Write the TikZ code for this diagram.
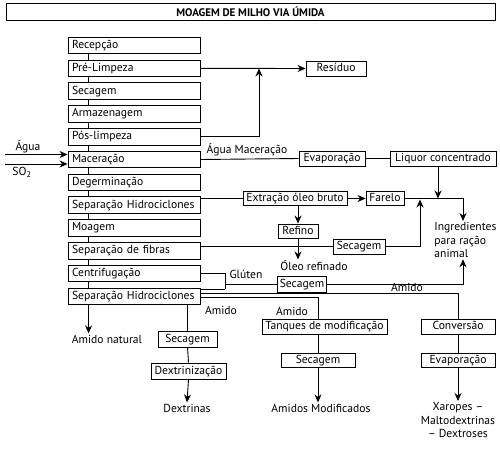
\documentclass[tikz,border=0pt]{standalone}
\usepackage{fontspec}
\setmainfont{PT Sans}
\usetikzlibrary{arrows.meta, positioning}

\begin{document}
\begin{tikzpicture}[
    x=1pt, y=-1pt,
    node distance=5.4pt,
    font=\fontsize{11.6}{13.5}\selectfont,
    line width=0.9pt,
    >={Stealth[length=8pt, width=7pt]},
    etapa/.style={rectangle, draw, minimum width=132pt, text width=124pt, minimum height=16.5pt, align=left, inner xsep=3pt, inner ysep=1pt, text height=8.5pt, text depth=2.5pt},
    caixa/.style={rectangle, draw, minimum width=#1, minimum height=15pt, inner xsep=2pt, inner ysep=1pt, text height=8.5pt, text depth=2.5pt},
    rotulo/.style={inner sep=1pt, align=center}
]
    \useasboundingbox (0,0) rectangle (500,448);

    % Title
    \node[draw, minimum width=489pt, minimum height=16pt, font=\fontsize{11}{12}\selectfont\bfseries] (titulo) at (250.5,12) {MOAGEM DE MILHO VIA ÚMIDA};

    % Main line
    \node[etapa] (rec) at (134,45.5) {Recepção};
    \node[etapa, below=of rec] (prelimp) {Pré-Limpeza};
    \node[etapa, below=of prelimp] (sec) {Secagem};
    \node[etapa, below=of sec] (arm) {Armazenagem};
    \node[etapa, below=of arm] (poslimp) {Pós-limpeza};
    \node[etapa, below=of poslimp] (mac) {Maceração};
    \node[etapa, below=of mac] (deg) {Degerminação};
    \node[etapa, below=of deg] (sephidA) {Separação Hidrociclones};
    \node[etapa, below=of sephidA] (moa) {Moagem};
    \node[etapa, below=of moa] (sepfib) {Separação de fibras};
    \node[etapa, below=of sepfib] (cent) {Centrifugação};
    \node[etapa, below=of cent] (sephidB) {Separação Hidrociclones};

    % Side boxes
    \node[caixa=60pt] (residuo) at (336,68.5) {Resíduo};
    \node[caixa=66pt] (evapA) at (332,158.5) {Evaporação};
    \node[caixa=106pt] (liquor) at (443,158.5) {Liquor concentrado};
    \node[caixa=104pt, minimum height=14pt] (extr) at (295,198.5) {Extração óleo bruto};
    \node[caixa=38pt, minimum height=14pt] (farelo) at (385,198.5) {Farelo};
    \node[caixa=40pt, minimum height=14pt] (refino) at (298,231) {Refino};
    \node[caixa=52pt] (secB) at (359,246.5) {Secagem};
    \node[caixa=48pt, minimum height=16pt] (secC) at (302,284) {Secagem};
    \node[caixa=59pt, minimum height=16pt] (secD) at (187.5,339) {Secagem};
    \node[caixa=75pt, minimum height=16pt] (dextr) at (188.5,371) {Dextrinização};
    \node[caixa=125pt] (tanq) at (324.5,326.5) {Tanques de modificação};
    \node[caixa=74pt, minimum height=14pt] (secE) at (318,360) {Secagem};
    \node[caixa=74pt] (conv) at (458,326.5) {Conversão};
    \node[caixa=74pt, minimum height=14pt] (evapB) at (458,360) {Evaporação};

    % Labels
    \node[rotulo] (agua) at (28,147) {Água};
    \node[rotulo] (so2) at (22,172) {SO\textsubscript{2}};
    \node[rotulo] (aguamac) at (247,149.5) {Água Maceração};
    \node[rotulo] (oleo) at (314,266) {Óleo refinado};
    \node[rotulo, anchor=north west, align=left] (ingr) at (433,221) {Ingredientes\\para ração\\animal};
    \node[rotulo] (gluten) at (246,274) {Glúten};
    \node[rotulo] (amidoA) at (407,287) {Amido};
    \node[rotulo] (amidoB) at (221,310) {Amido};
    \node[rotulo] (amidoC) at (292,311) {Amido};
    \node[rotulo] (amidonat) at (107,339) {Amido natural};
    \node[rotulo] (dextrinas) at (187,408) {Dextrinas};
    \node[rotulo] (amimod) at (321,408) {Amidos Modificados};
    \node[rotulo, anchor=north] (xar) at (458,401) {Xaropes --\\Maltodextrinas\\-- Dextroses};

    % Bend points
    \coordinate (cres) at (259,68.5);
    \coordinate (cagua) at (5,154.5);
    \coordinate (cso) at (5,164);
    \coordinate (cliq) at (438,198.5);
    \coordinate (cfar) at (463,198.5);
    \coordinate (csec) at (420,199.5);
    \coordinate (cbr) at (225,289);
    \coordinate (cconv) at (458,293);
    \coordinate (ctanq) at (318,297);

    % Connections
    \foreach \a/\b in {rec/prelimp, prelimp/sec, sec/arm, arm/poslimp, poslimp/mac, mac/deg, deg/sephidA, sephidA/moa, moa/sepfib, sepfib/cent, cent/sephidB}
        \draw ([xshift=21pt]\a.south west) -- ([xshift=21pt]\b.north west);
    \draw[->] (prelimp.east) -- (residuo.west);
    \draw[->] (poslimp.east) -| (cres);
    \draw[->] (cagua) -- (cagua -| mac.west);
    \draw[->] (cso) -- (cso -| mac.west);
    \draw (mac.east) -- (evapA.west);
    \draw (evapA.east) -- (liquor.west);
    \draw[->] (cliq |- liquor.south) -- (cliq);
    \draw (sephidA.east |- extr) -- (extr.west);
    \draw[->] (extr.east) -- (farelo.west);
    \draw[->] (farelo.east) -- (cfar) -- (cfar |- ingr.north);
    \draw[->] (refino.north |- extr.south) -- (refino.north);
    \draw (sepfib.east |- secB) -- (secB.west);
    \draw[->] (refino.south) -- (refino.south |- oleo.north);
    \draw[->] (secB.east) -| (csec);
    \draw (cent.east) -| (cbr);
    \draw (sephidB.east |- cbr) -- (cbr);
    \draw (cbr |- secC) -- (secC.west);
    \draw[->] (secC.east) -| (cfar |- ingr.south);
    \draw (sephidB.east |- cconv) -| (conv.north);
    \draw (sephidB.east |- ctanq) -| (tanq.north -| ctanq);
    \draw[->] ([xshift=21pt]sephidB.south west) -- ([xshift=21pt]sephidB.south west |- amidonat.north);
    \draw (secD.north |- sephidB.south) -- (secD.north);
    \draw (secD.south) -- (dextr.north);
    \draw[->] (dextr.south) -- (dextrinas.north);
    \draw (secE.north |- tanq.south) -- (secE.north);
    \draw[->] (secE.south) -- (secE.south |- amimod.north);
    \draw (conv.south) -- (evapB.north);
    \draw[->] (evapB.south) -- (xar.north);
\end{tikzpicture}
\end{document}
